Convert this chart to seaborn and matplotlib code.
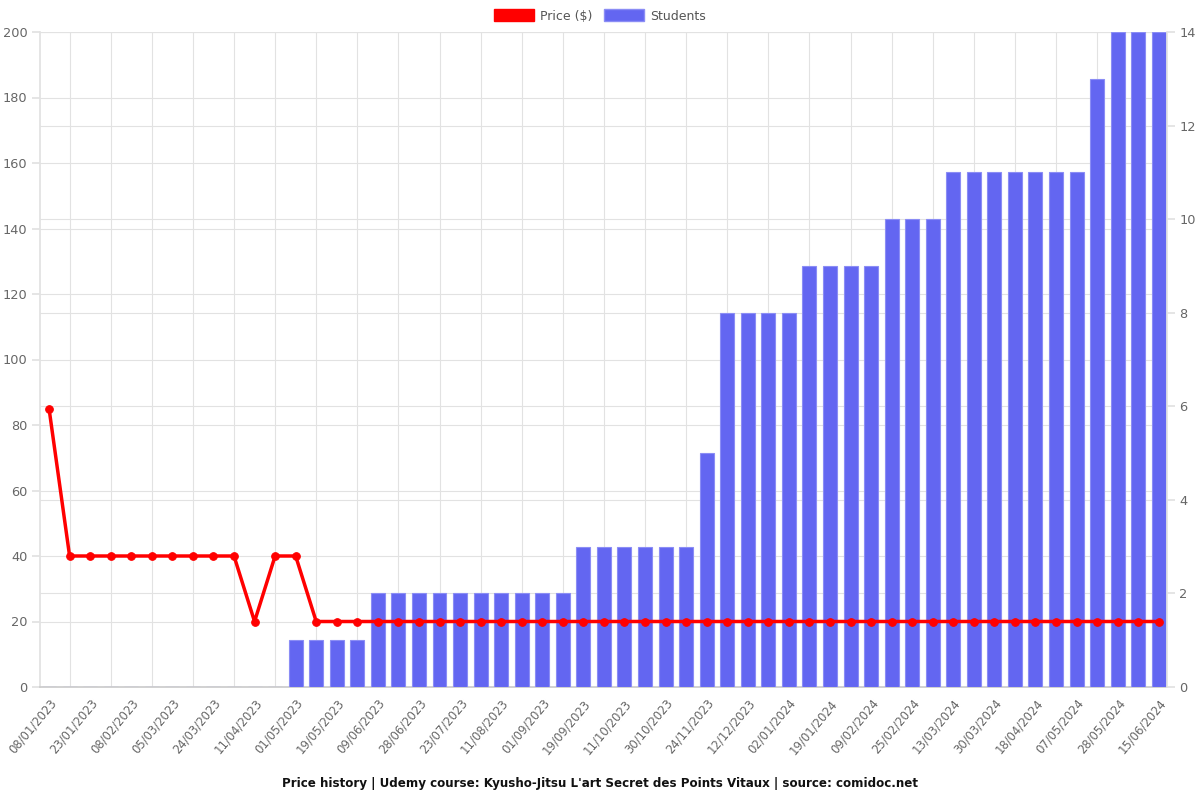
import matplotlib
matplotlib.use("Agg")
import matplotlib.pyplot as plt
import matplotlib.transforms as mtrans
import seaborn as sns
import pandas as pd
import numpy as np
from matplotlib.patches import Patch

price = [85, 40, 40, 40, 40, 40, 40, 40, 40, 40, 20, 40, 40] + [20] * 42
students = ([0] * 12 + [1] * 4 + [2] * 10 + [3] * 6 + [5] + [8] * 4 + [9] * 4
            + [10] * 3 + [11] * 7 + [13] + [14] * 3)
tick_labels = ["08/01/2023", "23/01/2023", "08/02/2023", "05/03/2023", "24/03/2023",
               "11/04/2023", "01/05/2023", "19/05/2023", "09/06/2023", "28/06/2023",
               "23/07/2023", "11/08/2023", "01/09/2023", "19/09/2023", "11/10/2023",
               "30/10/2023", "24/11/2023", "12/12/2023", "02/01/2024", "19/01/2024",
               "09/02/2024", "25/02/2024", "13/03/2024", "30/03/2024", "18/04/2024",
               "07/05/2024", "28/05/2024", "15/06/2024"]
title = "Price history | Udemy course: Kyusho-Jitsu L'art Secret des Points Vitaux | source: comidoc.net"

n = len(price)
df = pd.DataFrame({"idx": np.arange(n), "price": price, "students": students})

sns.set_theme(style="white")
plt.rcParams['font.family'] = ['DejaVu Sans']

fig = plt.figure(figsize=(12, 8), dpi=100)
ax = fig.add_axes([40 / 1200, 113 / 800, 1127 / 1200, 655 / 800])
ax2 = ax.twinx()
ax3 = ax.twinx()

grid_c = "#e2e2e2"
txt_c = "#666666"
bar_c = "#6366f1"

# Bars (students) on right axis
sns.barplot(data=df, x="idx", y="students", ax=ax2, color=bar_c, width=0.68,
            saturation=1, edgecolor="#8b8df5", linewidth=0.8, zorder=2)
# Price line on its own overlay axis sharing the left scale
sns.lineplot(data=df, x="idx", y="price", ax=ax3, color="#ff0000", linewidth=2.5,
             marker="o", markersize=5.5, markeredgecolor="#ff0000", zorder=5)

xlim = (-0.44, 54.4)
for a in (ax, ax2, ax3):
    a.set_xlim(*xlim)
    a.set_xlabel("")
    a.set_ylabel("")

ax.set_ylim(0, 200)
ax3.set_ylim(0, 200)
ax2.set_ylim(0, 14)

ax.set_yticks(np.arange(0, 201, 20))
ax2.set_yticks(np.arange(0, 15, 2))
ax3.set_yticks([])

# x ticks: labels at even indices, grid/ticks at odd indices
ax.set_xticks(np.arange(0, n, 2))
ax.set_xticklabels(tick_labels, rotation=50, ha="right", va="center",
                   rotation_mode="anchor", color=txt_c, fontsize=8.4)
ax.set_xticks(np.arange(1, n, 2), minor=True)
ax.tick_params(axis="x", which="major", length=0, pad=10)
ax.tick_params(axis="x", which="minor", length=7, color=grid_c, width=1)
offset = mtrans.ScaledTranslation(5 / 100, 0, fig.dpi_scale_trans)
for lbl in ax.get_xticklabels():
    lbl.set_transform(lbl.get_transform() + offset)
ax.grid(True, axis="x", which="minor", color=grid_c, linewidth=0.8)
ax.grid(True, axis="y", which="major", color=grid_c, linewidth=0.8)
ax.tick_params(axis="y", length=6, color=grid_c, labelcolor=txt_c, labelsize=9.3, pad=3)

for a in (ax2, ax3):
    a.tick_params(axis="x", which="both", bottom=False, labelbottom=False,
                  top=False, labeltop=False)
ax2.grid(True, axis="y", color=grid_c, linewidth=0.8)
ax2.set_axisbelow(True)
ax2.tick_params(axis="y", length=6, color=grid_c, labelcolor=txt_c, labelsize=9.3, pad=3)

for a in (ax, ax2, ax3):
    for s in a.spines.values():
        s.set_visible(False)
ax.spines["bottom"].set_visible(True)
ax.spines["bottom"].set_color("#cccccc")
ax.spines["left"].set_visible(True)
ax.spines["left"].set_color(grid_c)
ax2.spines["right"].set_visible(True)
ax2.spines["right"].set_color(grid_c)

handles = [Patch(facecolor="#ff0000", edgecolor="#ff0000"),
           Patch(facecolor=bar_c, edgecolor="#8b8df5")]
fig.legend(handles, ["Price ($)", "Students"], loc="center", bbox_to_anchor=(0.5, 0.98),
           ncol=2, frameon=False, fontsize=9, handlelength=3.2, handleheight=1.1,
           columnspacing=0.9, handletextpad=0.5, labelcolor="#555555")

fig.text(0.5, 1 - 783 / 800, title, ha="center", va="center", fontsize=8.6,
         fontweight="bold", color="#111111")

fig.savefig("out.png", dpi=100)
